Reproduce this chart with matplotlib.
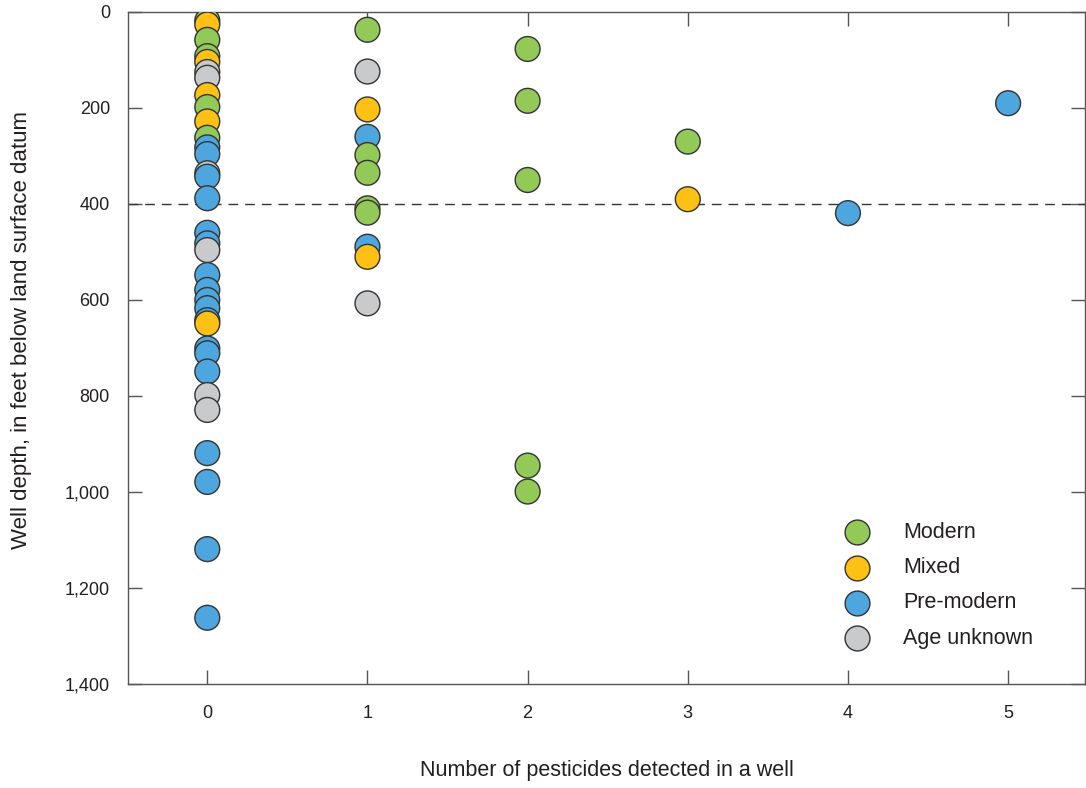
import matplotlib
matplotlib.use("Agg")
import matplotlib.pyplot as plt
import numpy as np

plt.rcParams['font.family'] = ['Liberation Sans', 'DejaVu Sans']

# number of pesticides detected / well depth (ft) for each age class
modern_x = [0, 0, 0, 0, 0, 1, 1, 1, 1, 1, 2, 2, 2, 2, 2, 3]
modern_depth = [18, 58, 92, 198, 262, 37, 298, 335, 409, 418, 77, 185, 350, 945, 999, 270]

mixed_x = [0, 0, 0, 0, 0, 1, 1, 3]
mixed_depth = [26, 104, 173, 228, 649, 203, 510, 390]

premodern_x = [0] * 18 + [1, 1, 4, 5]
premodern_depth = [282, 296, 343, 388, 460, 482, 548, 579, 600, 617, 642, 701,
                   711, 749, 919, 979, 1119, 1262, 260, 489, 419, 190]

unknown_x = [0, 0, 0, 0, 0, 0, 1, 1]
unknown_depth = [125, 137, 336, 496, 798, 829, 124, 607]

labels = ["Modern", "Mixed", "Pre-modern", "Age unknown"]
colors = ["#92c957", "#fdc116", "#4da6dd", "#c9cacc"]

fig = plt.figure(figsize=(10.86, 7.88), dpi=100)
ax = fig.add_axes([128 / 1086, 104 / 788, 957 / 1086, 672 / 788])

groups = [(modern_x, modern_depth), (mixed_x, mixed_depth),
          (premodern_x, premodern_depth), (unknown_x, unknown_depth)]

# draw all points together, shallow first so deeper wells sit on top
xs, ys, cs = [], [], []
for (gx, gy), c in zip(groups, colors):
    xs += gx
    ys += gy
    cs += [c] * len(gx)
order = np.argsort(ys)
ax.scatter(np.array(xs)[order], np.array(ys)[order], s=320,
           c=np.array(cs)[order], edgecolors="#333333", linewidths=1, zorder=3)

ax.axhline(400, color="#333333", lw=1, ls=(0, (7, 5)), zorder=2)

ax.set_xlim(-0.495, 5.48)
ax.set_ylim(1400, 0)
ax.set_xticks(range(6))
ax.set_yticks(range(0, 1401, 200))
ax.set_yticklabels(["0", "200", "400", "600", "800", "1,000", "1,200", "1,400"])

for s in ax.spines.values():
    s.set_color("#555555")
    s.set_linewidth(1)
ax.tick_params(axis="both", direction="in", length=10, width=1, color="#555555",
               labelsize=13, labelcolor="#231f20", top=True, right=True)
ax.tick_params(axis="x", pad=15)
ax.tick_params(axis="y", pad=13)

ax.set_xlabel("Number of pesticides detected in a well", fontsize=15.5, color="#231f20")
ax.set_ylabel("Well depth, in feet below land surface datum", fontsize=16, color="#231f20")
ax.xaxis.set_label_coords(0.5, -0.113)
ax.yaxis.set_label_coords(-0.100, 0.527)

handles = [ax.scatter([], [], s=320, c=c, edgecolors="#333333", linewidths=1)
           for c in colors]
ax.legend(handles, labels, loc="upper left", bbox_to_anchor=(0.7483, 0.241),
          frameon=False, fontsize=15.5, borderpad=0, borderaxespad=0,
          handlelength=1.2, handletextpad=1.54, labelspacing=0.66,
          labelcolor="#231f20")

fig.savefig("out.png", dpi=100)
